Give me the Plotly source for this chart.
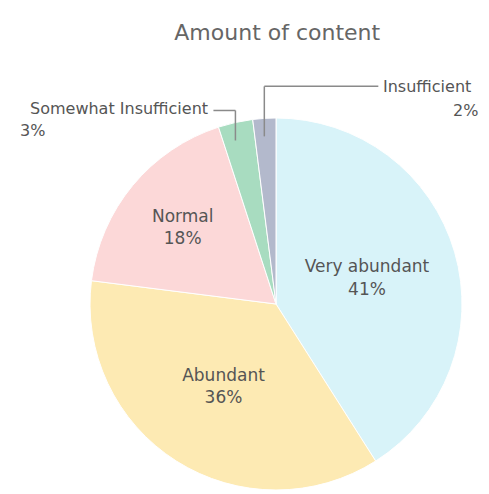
import numpy as np
import plotly.graph_objects as go

# Survey answers for "Amount of content"
categories = ["Very abundant", "Abundant", "Normal", "Somewhat Insufficient", "Insufficient"]
shares = [41, 36, 18, 3, 2]
colors = ["#d8f3f9", "#fdeab3", "#fcd8d8", "#a8dcc0", "#b3b9cc"]

W, H = 489, 494
cx, cy, R = 276, 304, 186  # pie centre and radius in pixels
FONT = "DejaVu Sans, sans-serif"

dom_x = [(cx - R) / W, (cx + R) / W]
dom_y = [1 - (cy + R) / H, 1 - (cy - R) / H]

texts = ["%{label}<br>%{value}%" if v >= 5 else "" for v in shares]

fig = go.Figure(go.Pie(
    labels=categories,
    values=shares,
    sort=False,
    direction="clockwise",
    rotation=0,
    marker=dict(colors=colors, line=dict(color="white", width=1)),
    texttemplate=texts,
    textposition="inside",
    insidetextorientation="horizontal",
    textfont=dict(family=FONT, size=17, color="#555555"),
    hoverinfo="label+percent",
    domain=dict(x=dom_x, y=dom_y),
    showlegend=False,
))

# leader lines for the thin slices, anchored at each slice's mid angle
total = sum(shares)
cum = np.cumsum([0] + shares[:-1])
shapes, annots = [], []
line_style = dict(color="#8a8a8a", width=1.5)


def px(x):
    return x / W


def py(y):
    return 1 - y / H


for cat, v, c0 in zip(categories, shares, cum):
    if v >= 5:
        continue
    mid = (c0 + v / 2) / total * 2 * np.pi
    ex = cx + R * np.sin(mid)
    ey = cy - R * np.cos(mid)
    inner_y = ey + 18
    if cat == "Insufficient":
        top_y = ey - 32
        end_x = ex + 114
        shapes.append(dict(type="line", xref="paper", yref="paper",
                           x0=px(ex), y0=py(inner_y), x1=px(ex), y1=py(top_y), line=line_style))
        shapes.append(dict(type="line", xref="paper", yref="paper",
                           x0=px(ex), y0=py(top_y), x1=px(end_x), y1=py(top_y), line=line_style))
        annots.append(dict(x=px(end_x + 3), y=py(top_y), xanchor="left", yanchor="middle",
                           text=cat, showarrow=False))
        annots.append(dict(x=px(480), y=py(top_y + 24), xanchor="right", yanchor="middle",
                           text=f"{v}%", showarrow=False))
    else:
        top_y = ey - 12
        end_x = ex - 22
        shapes.append(dict(type="line", xref="paper", yref="paper",
                           x0=px(ex), y0=py(inner_y), x1=px(ex), y1=py(top_y), line=line_style))
        shapes.append(dict(type="line", xref="paper", yref="paper",
                           x0=px(ex), y0=py(top_y), x1=px(end_x), y1=py(top_y), line=line_style))
        annots.append(dict(x=px(end_x - 3), y=py(top_y - 2), xanchor="right", yanchor="middle",
                           text=cat, showarrow=False))
        annots.append(dict(x=px(18), y=py(top_y + 20), xanchor="left", yanchor="middle",
                           text=f"{v}%", showarrow=False))

for a in annots:
    a.update(xref="paper", yref="paper",
             font=dict(family=FONT, size=16, color="#555555"))

fig.update_layout(
    width=W, height=H,
    margin=dict(l=0, r=0, t=0, b=0),
    paper_bgcolor="white",
    title=dict(text="Amount of content", x=0.567, xanchor="center", y=1 - 32 / H, yanchor="middle",
               font=dict(family=FONT, size=22, color="#666666")),
    shapes=shapes,
    annotations=annots,
)

fig.write_html("out.html")
